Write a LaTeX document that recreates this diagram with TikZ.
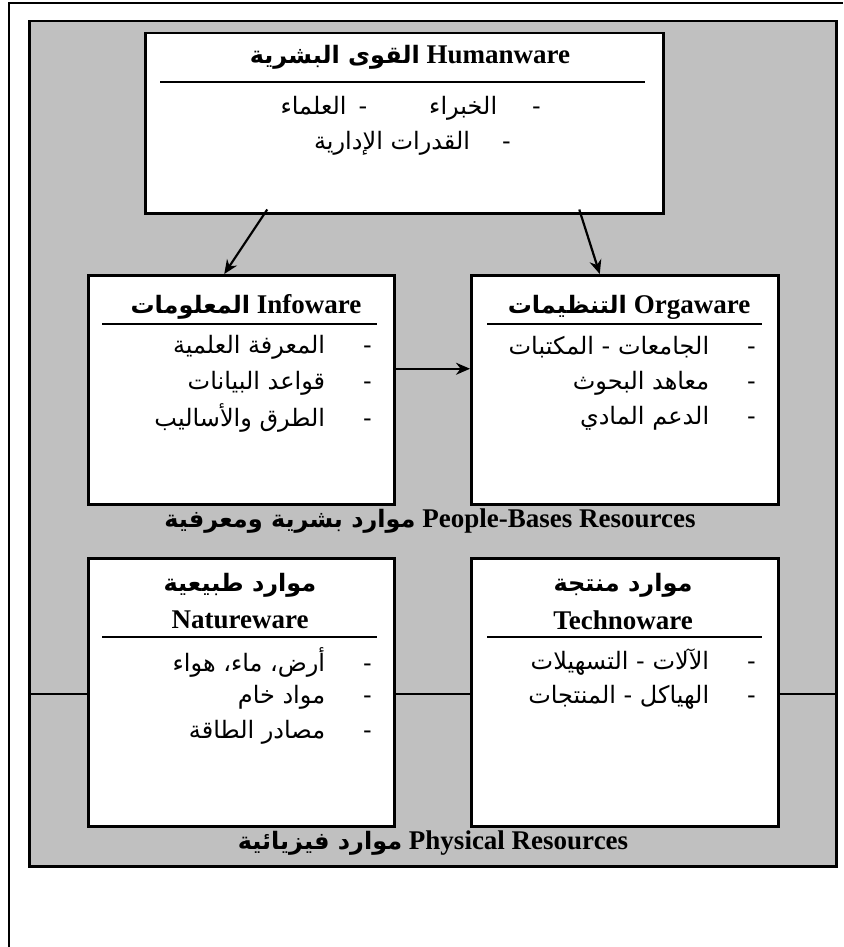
\documentclass[tikz,border=0pt]{standalone}
\usepackage{fontspec}
\setmainfont{Liberation Serif}
\newfontfamily\arabicfont[Script=Arabic]{DejaVu Sans}
\TeXXeTstate=1
\usetikzlibrary{positioning,arrows.meta}
\usepackage{xcolor}
\definecolor{panelgray}{RGB}{192,192,192}
\newcommand{\artxt}[1]{{\arabicfont\beginR #1\endR}}
\newcommand{\artitle}[1]{{\arabicfont\bfseries\fontsize{24}{30}\selectfont\beginR #1\endR}}

\begin{document}
\begin{tikzpicture}[x=1pt,y=-1pt,>={Stealth[length=14pt,width=12pt]},
  box/.style={draw,line width=2.5pt,fill=white,inner sep=0pt,anchor=north west},
  title/.style={font=\fontsize{27}{30}\selectfont\bfseries,inner sep=0pt},
  item/.style={font=\fontsize{24}{30}\selectfont,anchor=east,inner sep=0pt},
  rule/.style={line width=2.2pt},
  link/.style={->,line width=2.2pt}]
\useasboundingbox (0,0) rectangle (843,947);
\draw[line width=2pt] (9,947) -- (9,3) -- (843,3);
\node[box,fill=panelgray,minimum width=807pt,minimum height=845pt] (panel) at (28,20) {};
\draw[line width=1.8pt] (28,694) -- (835,694);

% people-based resources
\node[box,minimum width=518pt,minimum height=180pt] (human) at (144,32) {};
\node[box,minimum width=306pt,minimum height=229pt] (info) at (87,274) {};
\node[box,minimum width=307pt,minimum height=229pt] (orga) at (470,274) {};
\node[title] (humantitle) at (410,57) {\artitle{القوى البشرية} Humanware};
\draw[rule] (160,82) -- (645,82);
\node[item] (human1) at (541,108) {\artxt{-\hspace{35pt}الخبراء\hspace{62pt}-\hspace{12pt}العلماء}};
\node[item] (human2) at (511,143) {\artxt{-\hspace{32pt}القدرات الإدارية}};
\node[title] (infotitle) at (246,307) {\artitle{المعلومات} Infoware};
\draw[rule] (102,324) -- (377,324);
\node[item] (info1) at (372,347) {\artxt{-\hspace{38pt}المعرفة العلمية}};
\node[item] (info2) at (372,383) {\artxt{-\hspace{38pt}قواعد البيانات}};
\node[item] (info3) at (372,418) {\artxt{-\hspace{38pt}الطرق والأساليب}};
\node[title] (orgatitle) at (629,307) {\artitle{التنظيمات} Orgaware};
\draw[rule] (487,324) -- (762,324);
\node[item] (orga1) at (756,347) {\artxt{-\hspace{38pt}الجامعات - المكتبات}};
\node[item] (orga2) at (756,383) {\artxt{-\hspace{38pt}معاهد البحوث}};
\node[item] (orga3) at (756,418) {\artxt{-\hspace{38pt}الدعم المادي}};
\node[title] (peoplelbl) at (430,521) {\artitle{موارد بشرية ومعرفية} People-Bases Resources};

% physical resources
\node[box,minimum width=306pt,minimum height=268pt] (nature) at (87,557) {};
\node[box,minimum width=307pt,minimum height=268pt] (techno) at (470,557) {};
\node[title] (naturear) at (240,585) {\artitle{موارد طبيعية}};
\node[title] (natureen) at (240,620) {Natureware};
\draw[rule] (102,637) -- (377,637);
\node[item] (nature1) at (372,662) {\artxt{-\hspace{38pt}أرض، ماء، هواء}};
\node[item] (nature2) at (372,697) {\artxt{-\hspace{38pt}مواد خام}};
\node[item] (nature3) at (372,732) {\artxt{-\hspace{38pt}مصادر الطاقة}};
\node[title] (technoar) at (623,585) {\artitle{موارد منتجة}};
\node[title] (technoen) at (623,620) {Technoware};
\draw[rule] (487,637) -- (762,637);
\node[item] (techno1) at (756,662) {\artxt{-\hspace{38pt}الآلات - التسهيلات}};
\node[item] (techno2) at (756,697) {\artxt{-\hspace{38pt}الهياكل - المنتجات}};
\node[title] (physlbl) at (433,843) {\artitle{موارد فيزيائية} Physical Resources};

\draw[link] ([xshift=-137pt,yshift=5pt]human.south) -- ([xshift=-17pt]info.north);
\draw[link] ([xshift=175pt,yshift=5pt]human.south) -- ([xshift=-25pt]orga.north);
\draw[link] ([yshift=21pt]info.east) -- ([yshift=21pt]orga.west);
\end{tikzpicture}
\end{document}
